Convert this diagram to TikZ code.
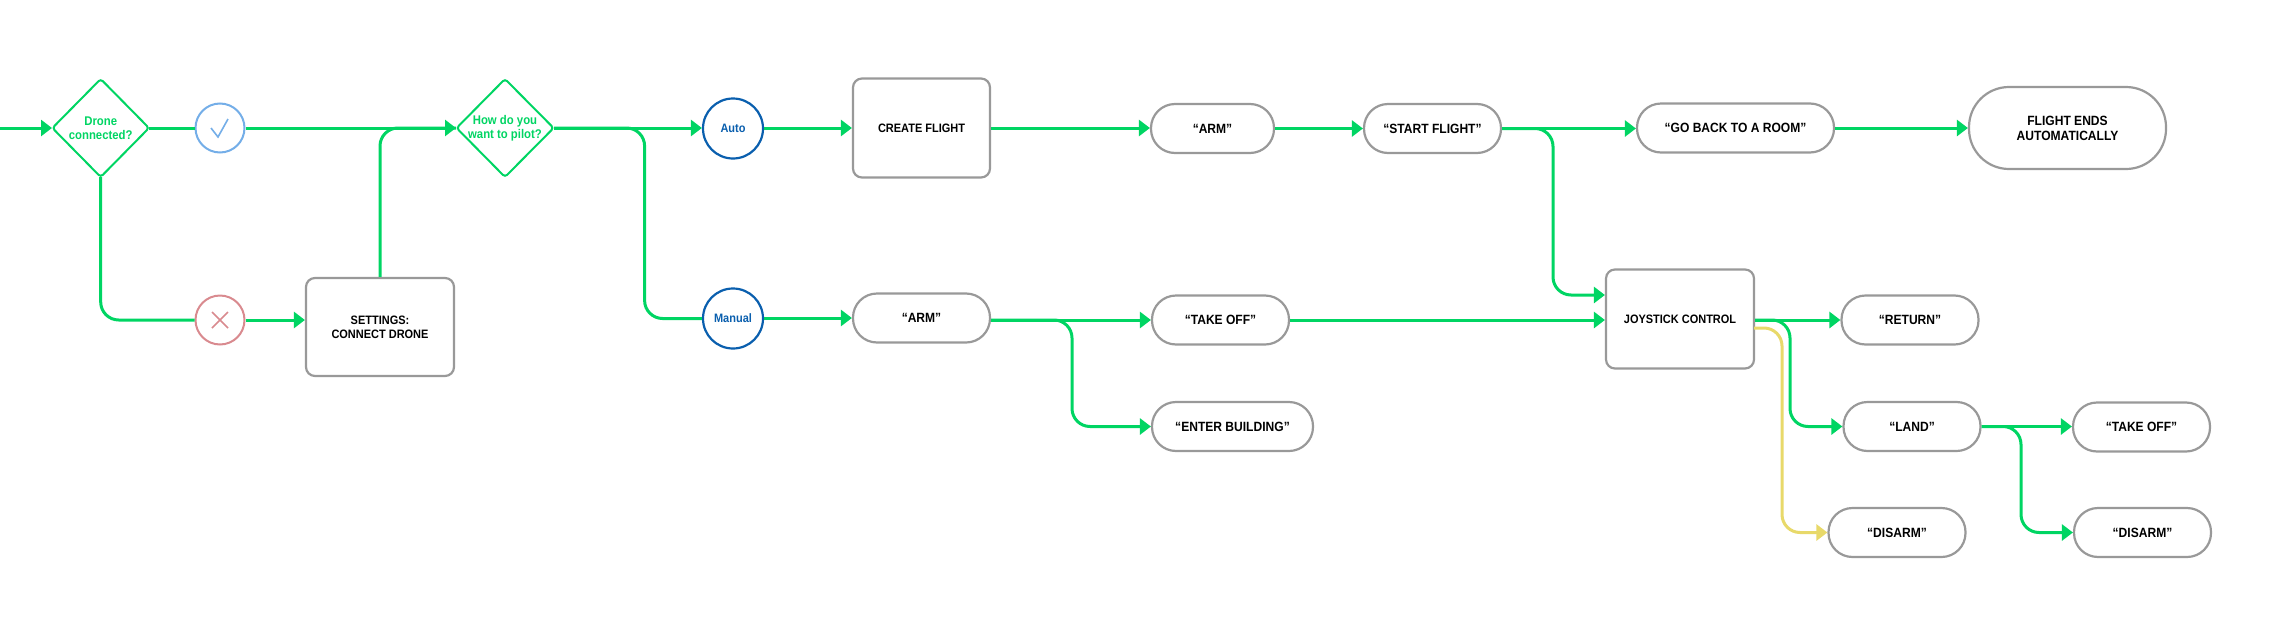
\documentclass[tikz,border=0pt]{standalone}
\usepackage{fontspec}
\setmainfont{Liberation Sans}[FakeStretch=0.9]
\usetikzlibrary{arrows.meta,shapes.geometric,calc}
\definecolor{flowgreen}{HTML}{00D563}
\definecolor{flowgray}{HTML}{999999}
\definecolor{flowblue}{HTML}{0A5FAE}
\definecolor{flowsky}{HTML}{74AEE8}
\definecolor{flowred}{HTML}{D98A8F}
\definecolor{flowyellow}{HTML}{E8D96A}
\tikzset{
  x=1pt,y=-1pt,
  base/.style={inner sep=0pt,align=center,font=\bfseries\fontsize{12.2}{14}\selectfont},
  large/.style={font=\bfseries\fontsize{13.4}{15}\selectfont},
  boxnode/.style={base,draw=flowgray,line width=2.2pt,rounded corners=9pt,fill=white},
  pill/.style={base,large,draw=flowgray,line width=2.2pt,rounded corners=24pt,fill=white},
  endpill/.style={base,large,draw=flowgray,line width=2.2pt,rounded corners=40pt,fill=white},
  choice/.style={base,draw=flowblue,text=flowblue,line width=2.2pt,circle,minimum size=60pt,fill=white},
  markcircle/.style={draw,line width=2pt,circle,minimum size=49pt,fill=white},
  question/.style={base,font=\bfseries\fontsize{12.6}{14}\selectfont,text=flowgreen},
  flowplain/.style={draw=flowgreen,line width=3pt},
  flow/.style={flowplain,-{Triangle[length=11pt,width=16pt]}},
  bentplain/.style={flowplain,rounded corners=18pt},
  bent/.style={flow,rounded corners=18pt},
  yellowflow/.style={draw=flowyellow,line width=3pt,rounded corners=18pt,-{Triangle[length=11pt,width=16pt]}}
}
\newcommand{\bx}[6][boxnode]{\node[#1,minimum width=#4pt,minimum height=#5pt] (#2) at #3 {#6};}
\begin{document}
\begin{tikzpicture}
\useasboundingbox (0,0) rectangle (2290,632);
\coordinate (entry) at (0,128);
\coordinate (d1l) at (52,128); \coordinate (d1r) at (149,128); \coordinate (d1b) at (100.7,177);
\coordinate (d2l) at (456,128); \coordinate (d2r) at (554,128);
% nodes
\draw[flowgreen,line width=2pt,rounded corners=3pt,fill=white] (100.7,79)--(149,128)--(100.7,177)--(52.4,128)--cycle;
\node[question] (d1) at (100.7,128) {Drone\\connected?};
\draw[flowgreen,line width=2pt,rounded corners=3pt,fill=white] (505,79)--(553.6,128)--(505,177)--(456.6,128)--cycle;
\node[question] (d2) at (505,128) {How do you\\want to pilot?};
\node[markcircle,draw=flowsky] (ok) at (220,128) {};
\node[markcircle,draw=flowred] (no) at (220,320) {};
\draw[flowsky,line width=1.6pt] (211,128)--(218,137)--(228,119);
\draw[flowred,line width=1.6pt] (212,312)--(228,328) (212,328)--(228,312);
\bx{settings}{(380,327)}{148}{98}{SETTINGS:\\CONNECT DRONE}
\node[choice] (auto) at (733,128.5) {Auto};
\node[choice] (manual) at (733,318.5) {Manual};
\bx{create}{(921.5,128)}{137}{99}{CREATE FLIGHT}
\bx[pill]{arm}{(1212.5,128.5)}{123}{49}{“ARM”}
\bx[pill]{start}{(1432.5,128.5)}{137}{49}{“START FLIGHT”}
\bx[pill]{goback}{(1735.5,128)}{197}{49}{“GO BACK TO A ROOM”}
\bx[endpill]{ends}{(2067.5,128)}{197}{82}{FLIGHT ENDS\\AUTOMATICALLY}
\bx[pill]{armm}{(921.5,318)}{137}{49}{“ARM”}
\bx[pill]{takeoff}{(1220.5,320)}{137}{49}{“TAKE OFF”}
\bx[pill]{enter}{(1232.5,426.5)}{161}{49}{“ENTER BUILDING”}
\bx{joy}{(1680,319)}{148}{99}{JOYSTICK CONTROL}
\bx[pill]{ret}{(1910,320)}{137}{49}{“RETURN”}
\bx[pill]{land}{(1912,426.5)}{137}{49}{“LAND”}
\bx[pill]{disarmy}{(1897,532.5)}{137}{49}{“DISARM”}
\bx[pill]{takeoffb}{(2141.5,427)}{137}{49}{“TAKE OFF”}
\bx[pill]{disarmb}{(2142.5,532.5)}{137}{49}{“DISARM”}
\coordinate (yout) at (1754,328);
% connectors
\draw[flow] (entry)--(d1l);
\draw[flowplain] (d1r)--(ok.west);
\draw[flow] (ok.east)--(d2l);
\draw[bentplain] (d1b)--(d1b|-no.west)--(no.west);
\draw[flow] (no.east)--(settings.west|-no.east);
\draw[bentplain] (settings.north)--(settings.north|-d2l)--(d2l);
\draw[flow] (d2r)--(auto.west|-d2r);
\draw[bentplain] (d2r)--(644.6,128)--(644.6,318.5)--(manual.west);
\draw[flow] (auto.east|-create.west)--(create.west);
\draw[flow] (manual.east|-armm.west)--(armm.west);
\draw[flow] (create.east)--(arm.west|-create.east);
\draw[flow] (arm.east)--(start.west);
\draw[flow] (start.east)--(goback.west|-start.east);
\draw[flow] (goback.east)--(ends.west);
\draw[flow] (armm.east|-takeoff.west)--(takeoff.west);
\draw[bent] (armm.east|-takeoff.west)--(1072,320)--(1072,426.5)--(enter.west);
\draw[flow] (takeoff.east)--(joy.west|-takeoff.east);
\draw[bent] (start.east)--(1553,128.5)--(1553,295)--(joy.west|-1553,295);
\draw[flow] (joy.east|-ret.west)--(ret.west);
\draw[bent] (joy.east|-ret.west)--(1790,320)--(1790,426.5)--(land.west);
\draw[yellowflow] (yout)--(1782,328)--(1782,532.5)--(disarmy.west);
\draw[flow] (land.east)--(takeoffb.west|-land.east);
\draw[bent] (land.east)--(2021,426.5)--(2021,532.5)--(disarmb.west);
\end{tikzpicture}
\end{document}
